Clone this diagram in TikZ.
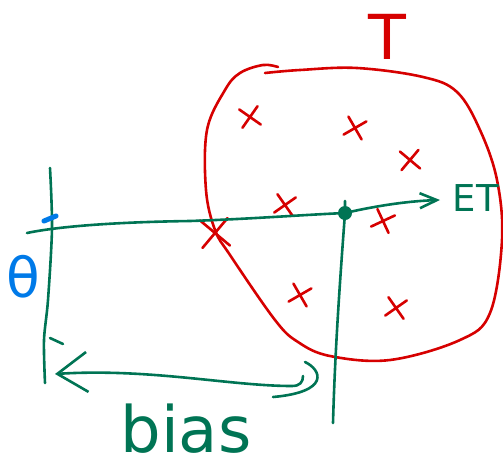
\documentclass[tikz,border=0pt]{standalone}
\usepackage{fontspec}
\setmainfont{DejaVu Sans}
\usetikzlibrary{arrows.meta, shapes.misc, positioning}
\definecolor{ink}{RGB}{0,116,84}
\definecolor{pen}{RGB}{214,0,0}
\definecolor{sky}{RGB}{0,122,232}
\tikzset{
  stroke/.style={line width=2.6pt, line cap=round, line join=round},
  ptmark/.style={cross out, draw=pen, stroke, minimum size=#1, inner sep=0pt},
  ptmark/.default=16pt,
  hand/.style={inner sep=0pt, font=\fontsize{#1}{#1}\selectfont}
}

\begin{document}
\begin{tikzpicture}[x=1pt, y=-1pt]
  \useasboundingbox (0,0) rectangle (503,469);

  % the set T
  \draw[pen, stroke] plot[smooth, tension=0.6] coordinates {
    (265,73) (300,70) (357,68) (423,77) (457,92) (480,130) (497,180)
    (502,240) (490,313) (460,340) (390,360) (330,356) (298,342)
    (275,320) (230,255) (215,230) (206,190) (207,130) (225,90)
    (240,73) (263,65) (278,67)};
  \node[hand=62pt, text=pen] (setT) at (387,37) {T};

  % samples
  \foreach \px/\py/\rot [count=\i] in {250/117/10, 355/128/-15, 410/160/5,
      285/205/-10, 383/221/-20, 300/295/-15, 396/308/-10}
    \node[ptmark, rotate=\rot] (s\i) at (\px,\py) {};
  \node[ptmark=25pt, rotate=5] (s8) at (215,233) {};

  % axis and true parameter
  \coordinate (axtop) at (50,168);
  \coordinate (axbot) at (45,383);
  \draw[ink, stroke] plot[smooth] coordinates {(axtop) (52,228) (48,300) (44,340) (axbot)};
  \draw[ink, stroke] (50,338) -- (63,344);
  \draw[sky, line width=5pt, line cap=round] (44,221) -- (56,216);
  \node[hand=55pt, text=sky] (theta) at (23,277) {θ};

  % estimate
  \node[circle, fill=ink, inner sep=0pt, minimum size=14pt] (obs) at (345,213) {};
  \coordinate (hleft) at (27,233);
  \coordinate (vtop) at (345,201);
  \coordinate (vbot) at (333,423);
  \coordinate (etin) at (440,200);
  \draw[ink, stroke] (hleft) .. controls (60,226) and (120,222) .. (190,221)
    .. controls (250,219) and (300,215) .. (obs.center);
  \draw[ink, stroke] (vtop) -- (obs.center) .. controls (340,280) and (335,350) .. (vbot);
  \draw[ink, stroke, -{Straight Barb[length=17pt, width=15pt]}]
    (obs.center) .. controls (380,205) and (410,201) .. (etin);
  \node[hand=37pt, text=ink, anchor=east] (et) at (499,198) {ET};

  % bias
  \coordinate (biasL) at (55,374);
  \coordinate (biasR) at (303,376);
  \draw[ink, stroke, {Straight Barb[length=30pt, width=40pt]}-]
    (biasL) .. controls (150,368) and (230,386) .. (292,386)
    .. controls (300,386) and (303,382) .. (biasR);
  \draw[ink, stroke] (305,362) .. controls (322,370) and (330,392) .. (273,397);
  \node[hand=64pt, text=ink, anchor=base] (bias) at (186,452) {bias};
\end{tikzpicture}
\end{document}
